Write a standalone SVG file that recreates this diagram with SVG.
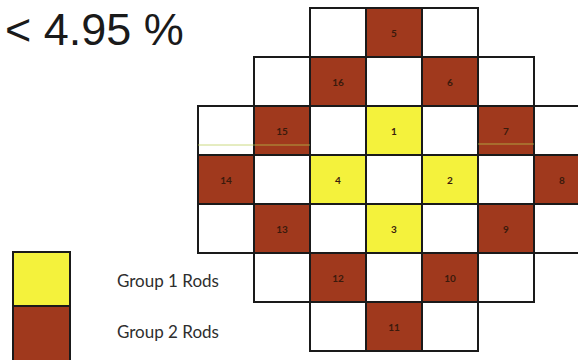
<svg xmlns="http://www.w3.org/2000/svg" width="578" height="360" viewBox="0 0 578 360">
<style>
.c{stroke:#1a1a1a;stroke-width:2}
.w{fill:#ffffff}
.r{fill:#a0391d}
.y{fill:#f4f23c}
.n{font-family:Lato,"Liberation Sans",sans-serif;font-size:10px;font-weight:bold;fill:#3a1a0c;text-anchor:middle;dominant-baseline:central}
.lg{font-family:Lato,"Liberation Sans",sans-serif;font-size:17px;fill:#2e2e2e}
</style>
<rect width="578" height="360" fill="#ffffff"/>
<text x="5" y="45" font-family="Liberation Sans, Arial, sans-serif" font-size="45" fill="#1a1a1a">&lt; 4.95 %</text>
<g id="grid">
<g id="r0">
<rect class="c w" x="310" y="8" width="56" height="49"/>
<g id="rod5"><rect class="c r" x="366" y="8" width="56" height="49"/><text class="n" x="394" y="32.5">5</text></g>
<rect class="c w" x="422" y="8" width="56" height="49"/>
</g>
<g id="r1">
<rect class="c w" x="254" y="57" width="56" height="49"/>
<g id="rod16"><rect class="c r" x="310" y="57" width="56" height="49"/><text class="n" x="338" y="81.5">16</text></g>
<rect class="c w" x="366" y="57" width="56" height="49"/>
<g id="rod6"><rect class="c r" x="422" y="57" width="56" height="49"/><text class="n" x="450" y="81.5">6</text></g>
<rect class="c w" x="478" y="57" width="56" height="49"/>
</g>
<g id="r2">
<rect class="c w" x="198" y="106" width="56" height="49"/>
<g id="rod15"><rect class="c r" x="254" y="106" width="56" height="49"/><text class="n" x="282" y="130.5">15</text></g>
<rect class="c w" x="310" y="106" width="56" height="49"/>
<g id="rod1"><rect class="c y" x="366" y="106" width="56" height="49"/><text class="n" x="394" y="130.5">1</text></g>
<rect class="c w" x="422" y="106" width="56" height="49"/>
<g id="rod7"><rect class="c r" x="478" y="106" width="56" height="49"/><text class="n" x="506" y="130.5">7</text></g>
<rect class="c w" x="534" y="106" width="56" height="49"/>
</g>
<g id="r3">
<g id="rod14"><rect class="c r" x="198" y="155" width="56" height="49"/><text class="n" x="226" y="179.5">14</text></g>
<rect class="c w" x="254" y="155" width="56" height="49"/>
<g id="rod4"><rect class="c y" x="310" y="155" width="56" height="49"/><text class="n" x="338" y="179.5">4</text></g>
<rect class="c w" x="366" y="155" width="56" height="49"/>
<g id="rod2"><rect class="c y" x="422" y="155" width="56" height="49"/><text class="n" x="450" y="179.5">2</text></g>
<rect class="c w" x="478" y="155" width="56" height="49"/>
<g id="rod8"><rect class="c r" x="534" y="155" width="56" height="49"/><text class="n" x="562" y="179.5">8</text></g>
</g>
<g id="r4">
<rect class="c w" x="198" y="204" width="56" height="49"/>
<g id="rod13"><rect class="c r" x="254" y="204" width="56" height="49"/><text class="n" x="282" y="228.5">13</text></g>
<rect class="c w" x="310" y="204" width="56" height="49"/>
<g id="rod3"><rect class="c y" x="366" y="204" width="56" height="49"/><text class="n" x="394" y="228.5">3</text></g>
<rect class="c w" x="422" y="204" width="56" height="49"/>
<g id="rod9"><rect class="c r" x="478" y="204" width="56" height="49"/><text class="n" x="506" y="228.5">9</text></g>
<rect class="c w" x="534" y="204" width="56" height="49"/>
</g>
<g id="r5">
<rect class="c w" x="254" y="253" width="56" height="49"/>
<g id="rod12"><rect class="c r" x="310" y="253" width="56" height="49"/><text class="n" x="338" y="277.5">12</text></g>
<rect class="c w" x="366" y="253" width="56" height="49"/>
<g id="rod10"><rect class="c r" x="422" y="253" width="56" height="49"/><text class="n" x="450" y="277.5">10</text></g>
<rect class="c w" x="478" y="253" width="56" height="49"/>
</g>
<g id="r6">
<rect class="c w" x="310" y="302" width="56" height="49"/>
<g id="rod11"><rect class="c r" x="366" y="302" width="56" height="49"/><text class="n" x="394" y="326.5">11</text></g>
<rect class="c w" x="422" y="302" width="56" height="49"/>
</g>
<g id="streaks" stroke="#b8cc50" stroke-width="1" opacity="0.7">
<line x1="198" y1="145" x2="310" y2="145"/>
<line x1="478" y1="144" x2="534" y2="144"/>
</g>
</g>
<g id="legend">
<g id="leg1"><rect class="c y" x="13" y="252" width="57" height="54"/><text class="lg" x="117" y="287">Group 1 Rods</text></g>
<g id="leg2"><rect class="c r" x="13" y="306" width="57" height="56"/><text class="lg" x="117" y="338">Group 2 Rods</text></g>
</g>
</svg>
